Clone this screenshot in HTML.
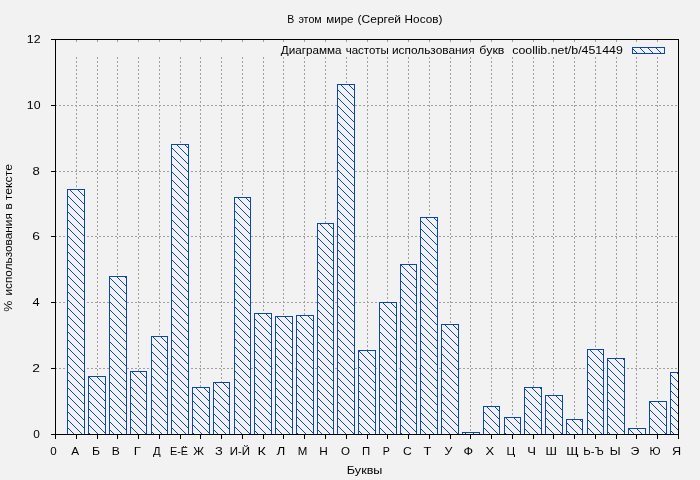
<!DOCTYPE html>
<html lang="ru"><head><meta charset="utf-8"><title>В этом мире (Сергей Носов)</title>
<style>html,body{margin:0;padding:0;background:#f2f2f2;}body{width:700px;height:480px;overflow:hidden;}svg{display:block;}text{font-family:"Liberation Sans","DejaVu Sans",sans-serif;font-size:11px;fill:#000;}</style></head><body>
<svg width="700" height="480" viewBox="0 0 700 480">
<defs><pattern id="h" width="8" height="8" patternUnits="userSpaceOnUse"><rect width="8" height="8" fill="#f2f2f2"/><path d="M0 0h1v1H0zM1 1h1v1H1zM2 2h1v1H2zM3 3h1v1H3zM4 4h1v1H4zM5 5h1v1H5zM6 6h1v1H6zM7 7h1v1H7z" fill="#0b46b4"/></pattern></defs>
<rect width="700" height="480" fill="#f2f2f2"/>
<g shape-rendering="crispEdges" stroke="#a0a0a0" stroke-width="1" stroke-dasharray="2 2" fill="none">
<path d="M55 368.5 H678"/>
<path d="M55 302.5 H678"/>
<path d="M55 236.5 H678"/>
<path d="M55 171.5 H678"/>
<path d="M55 105.5 H678"/>
<path d="M76.5 40 V42 M76.5 57 V434"/>
<path d="M97.5 40 V42 M97.5 57 V434"/>
<path d="M117.5 40 V42 M117.5 57 V434"/>
<path d="M138.5 40 V42 M138.5 57 V434"/>
<path d="M159.5 40 V42 M159.5 57 V434"/>
<path d="M180.5 40 V42 M180.5 57 V434"/>
<path d="M200.5 40 V42 M200.5 57 V434"/>
<path d="M221.5 40 V42 M221.5 57 V434"/>
<path d="M242.5 40 V42 M242.5 57 V434"/>
<path d="M263.5 40 V42 M263.5 57 V434"/>
<path d="M283.5 40 V42 M283.5 57 V434"/>
<path d="M304.5 40 V42 M304.5 57 V434"/>
<path d="M325.5 40 V42 M325.5 57 V434"/>
<path d="M346.5 40 V42 M346.5 57 V434"/>
<path d="M367.5 40 V42 M367.5 57 V434"/>
<path d="M387.5 40 V42 M387.5 57 V434"/>
<path d="M408.5 40 V42 M408.5 57 V434"/>
<path d="M429.5 40 V42 M429.5 57 V434"/>
<path d="M450.5 40 V42 M450.5 57 V434"/>
<path d="M470.5 40 V42 M470.5 57 V434"/>
<path d="M491.5 40 V42 M491.5 57 V434"/>
<path d="M512.5 40 V42 M512.5 57 V434"/>
<path d="M533.5 40 V42 M533.5 57 V434"/>
<path d="M553.5 40 V42 M553.5 57 V434"/>
<path d="M574.5 40 V42 M574.5 57 V434"/>
<path d="M595.5 40 V42 M595.5 57 V434"/>
<path d="M616.5 40 V42 M616.5 57 V434"/>
<path d="M636.5 40 V42 M636.5 57 V434"/>
<path d="M657.5 40 V42 M657.5 57 V434"/>
</g>
<g shape-rendering="crispEdges" fill="url(#h)" stroke="#0b46b4" stroke-width="1">
<rect x="67.5" y="189.5" width="17" height="245"/>
<rect x="88.5" y="376.5" width="17" height="58"/>
<rect x="109.5" y="276.5" width="17" height="158"/>
<rect x="130.5" y="371.5" width="16" height="63"/>
<rect x="151.5" y="336.5" width="16" height="98"/>
<rect x="171.5" y="144.5" width="17" height="290"/>
<rect x="192.5" y="387.5" width="17" height="47"/>
<rect x="213.5" y="382.5" width="16" height="52"/>
<rect x="234.5" y="197.5" width="16" height="237"/>
<rect x="254.5" y="313.5" width="17" height="121"/>
<rect x="275.5" y="316.5" width="17" height="118"/>
<rect x="296.5" y="315.5" width="17" height="119"/>
<rect x="317.5" y="223.5" width="16" height="211"/>
<rect x="337.5" y="84.5" width="17" height="350"/>
<rect x="358.5" y="350.5" width="17" height="84"/>
<rect x="379.5" y="302.5" width="17" height="132"/>
<rect x="400.5" y="264.5" width="16" height="170"/>
<rect x="420.5" y="217.5" width="17" height="217"/>
<rect x="441.5" y="324.5" width="17" height="110"/>
<rect x="462.5" y="432.5" width="17" height="2"/>
<rect x="483.5" y="406.5" width="16" height="28"/>
<rect x="504.5" y="417.5" width="16" height="17"/>
<rect x="524.5" y="387.5" width="17" height="47"/>
<rect x="545.5" y="395.5" width="17" height="39"/>
<rect x="566.5" y="419.5" width="16" height="15"/>
<rect x="587.5" y="349.5" width="16" height="85"/>
<rect x="607.5" y="358.5" width="17" height="76"/>
<rect x="628.5" y="428.5" width="17" height="6"/>
<rect x="649.5" y="401.5" width="17" height="33"/>
<rect x="670.5" y="372.5" width="10" height="62"/>
<rect x="632.5" y="47.5" width="32" height="6"/>
</g>
<rect x="679" y="300" width="10" height="140" fill="#f2f2f2"/>
<g shape-rendering="crispEdges" stroke="#000" stroke-width="1" fill="none">
<rect x="55.5" y="39.5" width="623" height="395"/>
<path d="M51 434.5 H55"/>
<path d="M51 368.5 H55"/>
<path d="M51 302.5 H55"/>
<path d="M51 236.5 H55"/>
<path d="M51 171.5 H55"/>
<path d="M51 105.5 H55"/>
<path d="M51 39.5 H55"/>
<path d="M55.5 434 V439"/>
<path d="M76.5 434 V439"/>
<path d="M97.5 434 V439"/>
<path d="M117.5 434 V439"/>
<path d="M138.5 434 V439"/>
<path d="M159.5 434 V439"/>
<path d="M180.5 434 V439"/>
<path d="M200.5 434 V439"/>
<path d="M221.5 434 V439"/>
<path d="M242.5 434 V439"/>
<path d="M263.5 434 V439"/>
<path d="M283.5 434 V439"/>
<path d="M304.5 434 V439"/>
<path d="M325.5 434 V439"/>
<path d="M346.5 434 V439"/>
<path d="M367.5 434 V439"/>
<path d="M387.5 434 V439"/>
<path d="M408.5 434 V439"/>
<path d="M429.5 434 V439"/>
<path d="M450.5 434 V439"/>
<path d="M470.5 434 V439"/>
<path d="M491.5 434 V439"/>
<path d="M512.5 434 V439"/>
<path d="M533.5 434 V439"/>
<path d="M553.5 434 V439"/>
<path d="M574.5 434 V439"/>
<path d="M595.5 434 V439"/>
<path d="M616.5 434 V439"/>
<path d="M636.5 434 V439"/>
<path d="M657.5 434 V439"/>
<path d="M678.5 434 V439"/>
</g>
<text y="23"><tspan x="287.26" textLength="7.00" lengthAdjust="spacingAndGlyphs">В</tspan> <tspan x="298.43" textLength="23.21" lengthAdjust="spacingAndGlyphs">этом</tspan> <tspan x="326.27" textLength="27.28" lengthAdjust="spacingAndGlyphs">мире</tspan> <tspan x="357.62" textLength="43.44" lengthAdjust="spacingAndGlyphs">(Сергей</tspan> <tspan x="404.64" textLength="37.78" lengthAdjust="spacingAndGlyphs">Носов)</tspan></text>
<text y="54"><tspan x="280.85" textLength="60.65" lengthAdjust="spacingAndGlyphs">Диаграмма</tspan> <tspan x="345.69" textLength="43.03" lengthAdjust="spacingAndGlyphs">частоты</tspan> <tspan x="391.95" textLength="82.74" lengthAdjust="spacingAndGlyphs">использования</tspan> <tspan x="479.38" textLength="25.01" lengthAdjust="spacingAndGlyphs">букв</tspan> <tspan x="512.22" textLength="110.60" lengthAdjust="spacingAndGlyphs">coollib.net/b/451449</tspan></text>
<text y="474"><tspan x="346.86" textLength="35.56" lengthAdjust="spacingAndGlyphs">Буквы</tspan></text>
<text y="438"><tspan x="33.28" textLength="6.58" lengthAdjust="spacingAndGlyphs">0</tspan></text>
<text y="372"><tspan x="32.35" textLength="7.69" lengthAdjust="spacingAndGlyphs">2</tspan></text>
<text y="306"><tspan x="32.42" textLength="7.13" lengthAdjust="spacingAndGlyphs">4</tspan></text>
<text y="240"><tspan x="32.19" textLength="7.68" lengthAdjust="spacingAndGlyphs">6</tspan></text>
<text y="175"><tspan x="32.50" textLength="7.29" lengthAdjust="spacingAndGlyphs">8</tspan></text>
<text y="109"><tspan x="26.84" textLength="13.70" lengthAdjust="spacingAndGlyphs">10</tspan></text>
<text y="43"><tspan x="26.81" textLength="13.76" lengthAdjust="spacingAndGlyphs">12</tspan></text>
<text y="455"><tspan x="50.19" textLength="6.45" lengthAdjust="spacingAndGlyphs">0</tspan></text>
<text y="455"><tspan x="71.34" textLength="7.84" lengthAdjust="spacingAndGlyphs">А</tspan></text>
<text y="455"><tspan x="92.07" textLength="8.02" lengthAdjust="spacingAndGlyphs">Б</tspan></text>
<text y="455"><tspan x="111.80" textLength="8.04" lengthAdjust="spacingAndGlyphs">В</tspan></text>
<text y="455"><tspan x="133.77" textLength="7.08" lengthAdjust="spacingAndGlyphs">Г</tspan></text>
<text y="455"><tspan x="152.90" textLength="7.64" lengthAdjust="spacingAndGlyphs">Д</tspan></text>
<text y="455"><tspan x="169.92" textLength="18.15" lengthAdjust="spacingAndGlyphs">Е-Ё</tspan></text>
<text y="455"><tspan x="193.25" textLength="10.77" lengthAdjust="spacingAndGlyphs">Ж</tspan></text>
<text y="455"><tspan x="215.13" textLength="7.75" lengthAdjust="spacingAndGlyphs">З</tspan></text>
<text y="455"><tspan x="229.73" textLength="20.35" lengthAdjust="spacingAndGlyphs">И-Й</tspan></text>
<text y="455"><tspan x="257.43" textLength="8.36" lengthAdjust="spacingAndGlyphs">К</tspan></text>
<text y="455"><tspan x="276.61" textLength="8.77" lengthAdjust="spacingAndGlyphs">Л</tspan></text>
<text y="455"><tspan x="297.67" textLength="9.58" lengthAdjust="spacingAndGlyphs">М</tspan></text>
<text y="455"><tspan x="319.39" textLength="8.55" lengthAdjust="spacingAndGlyphs">Н</tspan></text>
<text y="455"><tspan x="341.05" textLength="8.98" lengthAdjust="spacingAndGlyphs">О</tspan></text>
<text y="455"><tspan x="361.91" textLength="8.15" lengthAdjust="spacingAndGlyphs">П</tspan></text>
<text y="455"><tspan x="382.67" textLength="7.10" lengthAdjust="spacingAndGlyphs">Р</tspan></text>
<text y="455"><tspan x="403.09" textLength="8.69" lengthAdjust="spacingAndGlyphs">С</tspan></text>
<text y="455"><tspan x="423.59" textLength="7.88" lengthAdjust="spacingAndGlyphs">Т</tspan></text>
<text y="455"><tspan x="444.63" textLength="7.86" lengthAdjust="spacingAndGlyphs">У</tspan></text>
<text y="455"><tspan x="463.51" textLength="9.58" lengthAdjust="spacingAndGlyphs">Ф</tspan></text>
<text y="455"><tspan x="485.56" textLength="8.68" lengthAdjust="spacingAndGlyphs">Х</tspan></text>
<text y="455"><tspan x="506.46" textLength="8.71" lengthAdjust="spacingAndGlyphs">Ц</tspan></text>
<text y="455"><tspan x="527.35" textLength="8.75" lengthAdjust="spacingAndGlyphs">Ч</tspan></text>
<text y="455"><tspan x="545.45" textLength="11.45" lengthAdjust="spacingAndGlyphs">Ш</tspan></text>
<text y="455"><tspan x="566.30" textLength="12.40" lengthAdjust="spacingAndGlyphs">Щ</tspan></text>
<text y="455"><tspan x="583.37" textLength="20.30" lengthAdjust="spacingAndGlyphs">Ь-Ъ</tspan></text>
<text y="455"><tspan x="609.67" textLength="10.90" lengthAdjust="spacingAndGlyphs">Ы</tspan></text>
<text y="455"><tspan x="630.57" textLength="8.81" lengthAdjust="spacingAndGlyphs">Э</tspan></text>
<text y="455"><tspan x="649.46" textLength="11.02" lengthAdjust="spacingAndGlyphs">Ю</tspan></text>
<text y="455"><tspan x="672.09" textLength="9.13" lengthAdjust="spacingAndGlyphs">Я</tspan></text>
<text transform="translate(12 0) rotate(-90)" y="0"><tspan x="-311.65" textLength="11.03" lengthAdjust="spacingAndGlyphs">%</tspan> <tspan x="-295.64" textLength="82.52" lengthAdjust="spacingAndGlyphs">использования</tspan> <tspan x="-209.64" textLength="6.30" lengthAdjust="spacingAndGlyphs">в</tspan> <tspan x="-200.35" textLength="36.35" lengthAdjust="spacingAndGlyphs">тексте</tspan></text>
</svg></body></html>
